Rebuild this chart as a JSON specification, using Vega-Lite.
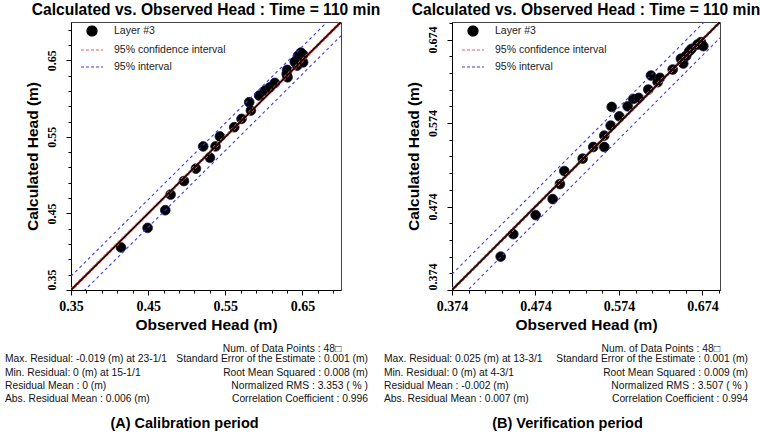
{
  "$schema": "https://vega.github.io/schema/vega-lite/v6.json",
  "background": "white",
  "padding": {"left": 5, "top": 2, "right": 5, "bottom": 0},
  "columns": 2,
  "bounds": "flush",
  "spacing": {"column": 111, "row": 56},
  "resolve": {"scale": {"color": "independent", "x": "independent", "y": "independent"}, "legend": {"color": "independent"}},
  "config": {
    "font": "Liberation Sans",
    "view": {"stroke": "#444", "strokeWidth": 1},
    "axis": {"grid": false, "domainColor": "#000", "tickColor": "#000", "labelColor": "#000", "titleColor": "#000", "labelFont": "Liberation Serif", "labelFontWeight": "bold", "labelFontSize": 14, "titleFont": "Liberation Sans", "titleFontWeight": "bold", "titleFontSize": 15.5, "labelOverlap": false, "labelFlush": false},
    "title": {"font": "Liberation Sans", "fontWeight": "bold", "fontSize": 15.6, "color": "#000"},
    "legend": {"orient": "none", "legendX": 15, "legendY": 3, "title": null, "labelFont": "Liberation Sans", "labelFontSize": 10.5, "labelColor": "#222", "symbolSize": 100, "labelOffset": 16, "rowPadding": 5, "padding": 0}
  },
  "datasets": {
    "ptsA": [
      {"obs": 0.4148, "calc": 0.4056}, {"obs": 0.4493, "calc": 0.4311}, {"obs": 0.4722, "calc": 0.4542}, {"obs": 0.4791, "calc": 0.4746},
      {"obs": 0.4964, "calc": 0.4923}, {"obs": 0.5119, "calc": 0.5085}, {"obs": 0.5214, "calc": 0.5375}, {"obs": 0.5301, "calc": 0.5228},
      {"obs": 0.5374, "calc": 0.5375}, {"obs": 0.543, "calc": 0.5505}, {"obs": 0.5616, "calc": 0.5626}, {"obs": 0.5711, "calc": 0.5735},
      {"obs": 0.581, "calc": 0.5952}, {"obs": 0.5832, "calc": 0.5844}, {"obs": 0.5939, "calc": 0.6039}, {"obs": 0.6013, "calc": 0.6104},
      {"obs": 0.6078, "calc": 0.6147}, {"obs": 0.6142, "calc": 0.6204}, {"obs": 0.6302, "calc": 0.6374}, {"obs": 0.6307, "calc": 0.6278},
      {"obs": 0.6296, "calc": 0.632}, {"obs": 0.6444, "calc": 0.656}, {"obs": 0.6509, "calc": 0.6573}, {"obs": 0.6431, "calc": 0.643},
      {"obs": 0.6509, "calc": 0.6473}, {"obs": 0.6475, "calc": 0.6515}, {"obs": 0.648, "calc": 0.66}, {"obs": 0.64, "calc": 0.648}
    ],
    "ptsB": [
      {"obs": 0.4323, "calc": 0.414}, {"obs": 0.4474, "calc": 0.4409}, {"obs": 0.4742, "calc": 0.4637}, {"obs": 0.4946, "calc": 0.4829},
      {"obs": 0.5033, "calc": 0.5009}, {"obs": 0.5085, "calc": 0.5165}, {"obs": 0.5305, "calc": 0.5313}, {"obs": 0.5432, "calc": 0.5453},
      {"obs": 0.5564, "calc": 0.5589}, {"obs": 0.5564, "calc": 0.5453}, {"obs": 0.564, "calc": 0.5709}, {"obs": 0.5653, "calc": 0.5933},
      {"obs": 0.5744, "calc": 0.582}, {"obs": 0.5844, "calc": 0.594}, {"obs": 0.5911, "calc": 0.6029}, {"obs": 0.5976, "calc": 0.6041},
      {"obs": 0.6091, "calc": 0.6141}, {"obs": 0.6123, "calc": 0.6309}, {"obs": 0.6203, "calc": 0.6229}, {"obs": 0.6231, "calc": 0.6281},
      {"obs": 0.6383, "calc": 0.6381}, {"obs": 0.6482, "calc": 0.651}, {"obs": 0.651, "calc": 0.6453}, {"obs": 0.6582, "calc": 0.6601},
      {"obs": 0.661, "calc": 0.6629}, {"obs": 0.6722, "calc": 0.6709}, {"obs": 0.675, "calc": 0.6661}, {"obs": 0.6545, "calc": 0.6545},
      {"obs": 0.668, "calc": 0.668}
    ],
    "linesA": [
      {"obs": 0.35, "calc": 0.368, "s": "95% interval", "id": "bu"}, {"obs": 0.70, "calc": 0.718, "s": "95% interval", "id": "bu"},
      {"obs": 0.35, "calc": 0.332, "s": "95% interval", "id": "bl"}, {"obs": 0.70, "calc": 0.682, "s": "95% interval", "id": "bl"},
      {"obs": 0.35, "calc": 0.35, "s": "fit", "id": "f"}, {"obs": 0.70, "calc": 0.70, "s": "fit", "id": "f"},
      {"obs": 0.35, "calc": 0.3525, "s": "95% confidence interval", "id": "ru"}, {"obs": 0.70, "calc": 0.7025, "s": "95% confidence interval", "id": "ru"},
      {"obs": 0.35, "calc": 0.3475, "s": "95% confidence interval", "id": "rl"}, {"obs": 0.70, "calc": 0.6975, "s": "95% confidence interval", "id": "rl"}
    ],
    "linesB": [
      {"obs": 0.374, "calc": 0.393, "s": "95% interval", "id": "bu"}, {"obs": 0.695, "calc": 0.714, "s": "95% interval", "id": "bu"},
      {"obs": 0.374, "calc": 0.355, "s": "95% interval", "id": "bl"}, {"obs": 0.695, "calc": 0.676, "s": "95% interval", "id": "bl"},
      {"obs": 0.374, "calc": 0.374, "s": "fit", "id": "f"}, {"obs": 0.695, "calc": 0.695, "s": "fit", "id": "f"},
      {"obs": 0.374, "calc": 0.3765, "s": "95% confidence interval", "id": "ru"}, {"obs": 0.695, "calc": 0.6975, "s": "95% confidence interval", "id": "ru"},
      {"obs": 0.374, "calc": 0.3715, "s": "95% confidence interval", "id": "rl"}, {"obs": 0.695, "calc": 0.6925, "s": "95% confidence interval", "id": "rl"}
    ],
    "statsA": [
      {"col": 0.926, "line": 0.22, "text": "Num. of Data Points : 48□"},
      {"col": 0, "line": 1, "text": "Max. Residual: -0.019 (m) at 23-1/1"},
      {"col": 0, "line": 2, "text": "Min. Residual: 0 (m) at 15-1/1"},
      {"col": 0, "line": 3, "text": "Residual Mean : 0 (m)"},
      {"col": 0, "line": 4, "text": "Abs. Residual Mean : 0.006 (m)"},
      {"col": 1, "line": 1, "text": "Standard Error of the Estimate : 0.001 (m)"},
      {"col": 1, "line": 2, "text": "Root Mean Squared : 0.008 (m)"},
      {"col": 1, "line": 3, "text": "Normalized RMS : 3.353 ( % )"},
      {"col": 1, "line": 4, "text": "Correlation Coefficient : 0.996"}
    ],
    "statsB": [
      {"col": 0.923, "line": 0.22, "text": "Num. of Data Points : 48□"},
      {"col": 0, "line": 1, "text": "Max. Residual: 0.025 (m) at 13-3/1"},
      {"col": 0, "line": 2, "text": "Min. Residual: 0 (m) at 4-3/1"},
      {"col": 0, "line": 3, "text": "Residual Mean : -0.002 (m)"},
      {"col": 0, "line": 4, "text": "Abs. Residual Mean : 0.007 (m)"},
      {"col": 1, "line": 1, "text": "Standard Error of the Estimate : 0.001 (m)"},
      {"col": 1, "line": 2, "text": "Root Mean Squared : 0.009 (m)"},
      {"col": 1, "line": 3, "text": "Normalized RMS : 3.507 ( % )"},
      {"col": 1, "line": 4, "text": "Correlation Coefficient : 0.994"}
    ]
  },
  "concat": [
    {
      "width": 270, "height": 268,
      "title": {"text": "Calculated vs. Observed Head : Time = 110 min", "offset": 3},
      "resolve": {"axis": {"x": "independent", "y": "independent"}},
      "encoding": {
        "x": {"field": "obs", "type": "quantitative", "scale": {"domain": [0.35, 0.70], "nice": false, "zero": false}},
        "y": {"field": "calc", "type": "quantitative", "scale": {"domain": [0.35, 0.70], "nice": false, "zero": false}}
      },
      "layer": [
        {
          "data": {"name": "ptsA"},
          "mark": {"type": "point", "filled": true, "size": 95, "opacity": 1, "stroke": "#151535", "strokeWidth": 0.8, "color": "#000"},
          "encoding": {
            "x": {"field": "obs", "type": "quantitative",
              "axis": {"title": "Observed Head (m)", "values": [0.35, 0.45, 0.55, 0.65], "format": ".2f", "tickSize": 5, "labelPadding": 4, "titlePadding": 4}},
            "y": {"field": "calc", "type": "quantitative",
              "axis": {"title": "Calculated Head (m)", "values": [0.35, 0.45, 0.55, 0.65], "format": ".2f", "tickSize": 5, "labelPadding": 8, "labelFontSize": 12, "labelAngle": -90,
                "labelAlign": {"condition": {"test": "datum.value == 0.35", "value": "left"}, "value": "center"}, "labelBaseline": "bottom", "titlePadding": 5}}
          }
        },
        {
          "data": {"name": "linesA"},
          "transform": [{"filter": "datum.s == '95% interval'"}],
          "mark": {"type": "line", "clip": true, "strokeWidth": 1.1, "strokeDash": [3, 3]},
          "encoding": {
            "x": {"field": "obs", "type": "quantitative",
              "axis": {"title": null, "labels": false, "domain": false, "tickSize": 3, "orient": "bottom", "values": [0.37, 0.39, 0.41, 0.43, 0.47, 0.49, 0.51, 0.53, 0.57, 0.59, 0.61, 0.63, 0.67, 0.69]}},
            "y": {"field": "calc", "type": "quantitative",
              "axis": {"title": null, "labels": false, "domain": false, "tickSize": 3, "orient": "left", "values": [0.37, 0.39, 0.41, 0.43, 0.47, 0.49, 0.51, 0.53, 0.57, 0.59, 0.61, 0.63, 0.67, 0.69]}},
            "color": {"field": "s", "type": "nominal",
              "scale": {"domain": ["Layer #3", "95% confidence interval", "95% interval"], "range": ["#000000", "#e06060", "#3a3af5"]},
              "legend": {"values": ["Layer #3", "95% confidence interval", "95% interval"],
                "encode": {"symbols": {"update": {
                  "shape": {"signal": "datum.value === 'Layer #3' ? 'circle' : 'M-2.2,0H2.2'"},
                  "strokeDash": {"signal": "datum.value === 'Layer #3' ? [1,0] : [3,2]"},
                  "fill": {"signal": "datum.value === 'Layer #3' ? '#000' : 'transparent'"},
                  "stroke": {"signal": "datum.value === 'Layer #3' ? '#000' : (datum.value === '95% interval' ? '#3a3af5' : '#e06060')"},
                  "strokeWidth": {"value": 1.2}, "opacity": {"value": 1}, "size": {"value": 100}}}}}},
            "detail": {"field": "id"}
          }
        },
        {
          "data": {"name": "linesA"},
          "transform": [{"filter": "datum.s == 'fit'"}],
          "mark": {"type": "line", "clip": true, "color": "#2e0505", "strokeWidth": 2},
          "encoding": {
            "x": {"field": "obs", "type": "quantitative", "axis": null},
            "y": {"field": "calc", "type": "quantitative", "axis": null}
          }
        },
        {
          "data": {"name": "linesA"},
          "transform": [{"filter": "datum.s == '95% confidence interval'"}],
          "mark": {"type": "line", "clip": true, "color": "#e87a7a", "strokeWidth": 0.9, "strokeDash": [3, 2]},
          "encoding": {
            "x": {"field": "obs", "type": "quantitative", "axis": null},
            "y": {"field": "calc", "type": "quantitative", "axis": null},
            "detail": {"field": "id"}
          }
        }
      ]
    },
    {
      "width": 268, "height": 268,
      "title": {"text": "Calculated vs. Observed Head : Time = 110 min", "offset": 3},
      "resolve": {"axis": {"x": "independent", "y": "independent"}},
      "encoding": {
        "x": {"field": "obs", "type": "quantitative", "scale": {"domain": [0.374, 0.695], "nice": false, "zero": false}},
        "y": {"field": "calc", "type": "quantitative", "scale": {"domain": [0.374, 0.695], "nice": false, "zero": false}}
      },
      "layer": [
        {
          "data": {"name": "ptsB"},
          "mark": {"type": "point", "filled": true, "size": 95, "opacity": 1, "stroke": "#151535", "strokeWidth": 0.8, "color": "#000"},
          "encoding": {
            "x": {"field": "obs", "type": "quantitative",
              "axis": {"title": "Observed Head (m)", "values": [0.374, 0.474, 0.574, 0.674], "format": ".3f", "tickSize": 5, "labelPadding": 4, "titlePadding": 4}},
            "y": {"field": "calc", "type": "quantitative",
              "axis": {"title": "Calculated Head (m)", "values": [0.374, 0.474, 0.574, 0.674], "format": ".3f", "tickSize": 5, "labelPadding": 8, "labelFontSize": 12, "labelAngle": -90,
                "labelAlign": {"condition": {"test": "datum.value == 0.374", "value": "left"}, "value": "center"}, "labelBaseline": "bottom", "titlePadding": 5}}
          }
        },
        {
          "data": {"name": "linesB"},
          "transform": [{"filter": "datum.s == '95% interval'"}],
          "mark": {"type": "line", "clip": true, "strokeWidth": 1.1, "strokeDash": [3, 3]},
          "encoding": {
            "x": {"field": "obs", "type": "quantitative",
              "axis": {"title": null, "labels": false, "domain": false, "tickSize": 3, "orient": "bottom", "values": [0.394, 0.414, 0.434, 0.454, 0.494, 0.514, 0.534, 0.554, 0.594, 0.614, 0.634, 0.654, 0.694]}},
            "y": {"field": "calc", "type": "quantitative",
              "axis": {"title": null, "labels": false, "domain": false, "tickSize": 3, "orient": "left", "values": [0.394, 0.414, 0.434, 0.454, 0.494, 0.514, 0.534, 0.554, 0.594, 0.614, 0.634, 0.654, 0.694]}},
            "color": {"field": "s", "type": "nominal",
              "scale": {"domain": ["Layer #3", "95% confidence interval", "95% interval"], "range": ["#000000", "#e06060", "#3a3af5"]},
              "legend": {"values": ["Layer #3", "95% confidence interval", "95% interval"],
                "encode": {"symbols": {"update": {
                  "shape": {"signal": "datum.value === 'Layer #3' ? 'circle' : 'M-2.2,0H2.2'"},
                  "strokeDash": {"signal": "datum.value === 'Layer #3' ? [1,0] : [3,2]"},
                  "fill": {"signal": "datum.value === 'Layer #3' ? '#000' : 'transparent'"},
                  "stroke": {"signal": "datum.value === 'Layer #3' ? '#000' : (datum.value === '95% interval' ? '#3a3af5' : '#e06060')"},
                  "strokeWidth": {"value": 1.2}, "opacity": {"value": 1}, "size": {"value": 100}}}}}},
            "detail": {"field": "id"}
          }
        },
        {
          "data": {"name": "linesB"},
          "transform": [{"filter": "datum.s == 'fit'"}],
          "mark": {"type": "line", "clip": true, "color": "#2e0505", "strokeWidth": 2},
          "encoding": {
            "x": {"field": "obs", "type": "quantitative", "axis": null},
            "y": {"field": "calc", "type": "quantitative", "axis": null}
          }
        },
        {
          "data": {"name": "linesB"},
          "transform": [{"filter": "datum.s == '95% confidence interval'"}],
          "mark": {"type": "line", "clip": true, "color": "#e87a7a", "strokeWidth": 0.9, "strokeDash": [3, 2]},
          "encoding": {
            "x": {"field": "obs", "type": "quantitative", "axis": null},
            "y": {"field": "calc", "type": "quantitative", "axis": null},
            "detail": {"field": "id"}
          }
        }
      ]
    },
    {
      "width": 270, "height": 53,
      "view": {"stroke": null},
      "title": {"text": "(A) Calibration period", "orient": "bottom", "fontSize": 14.5, "baseline": "middle", "offset": 20, "dx": -21.5},
      "data": {"name": "statsA"},
      "encoding": {
        "x": {"field": "col", "type": "quantitative", "scale": {"domain": [0, 1], "range": [-66, 297]}, "axis": null},
        "y": {"field": "line", "type": "quantitative", "scale": {"domain": [0, 4], "reverse": true}, "axis": null},
        "text": {"field": "text"}
      },
      "layer": [
        {"transform": [{"filter": "datum.col == 0"}], "mark": {"type": "text", "align": "left", "baseline": "middle", "fontSize": 10.3, "color": "#111", "font": "Liberation Sans"}},
        {"transform": [{"filter": "datum.col != 0"}], "mark": {"type": "text", "align": "right", "baseline": "middle", "fontSize": 10.3, "color": "#111", "font": "Liberation Sans"}}
      ]
    },
    {
      "width": 268, "height": 53,
      "view": {"stroke": null},
      "title": {"text": "(B) Verification period", "orient": "bottom", "fontSize": 14.5, "baseline": "middle", "offset": 20, "dx": -18.5},
      "data": {"name": "statsB"},
      "encoding": {
        "x": {"field": "col", "type": "quantitative", "scale": {"domain": [0, 1], "range": [-68, 296]}, "axis": null},
        "y": {"field": "line", "type": "quantitative", "scale": {"domain": [0, 4], "reverse": true}, "axis": null},
        "text": {"field": "text"}
      },
      "layer": [
        {"transform": [{"filter": "datum.col == 0"}], "mark": {"type": "text", "align": "left", "baseline": "middle", "fontSize": 10.3, "color": "#111", "font": "Liberation Sans"}},
        {"transform": [{"filter": "datum.col != 0"}], "mark": {"type": "text", "align": "right", "baseline": "middle", "fontSize": 10.3, "color": "#111", "font": "Liberation Sans"}}
      ]
    }
  ]
}
